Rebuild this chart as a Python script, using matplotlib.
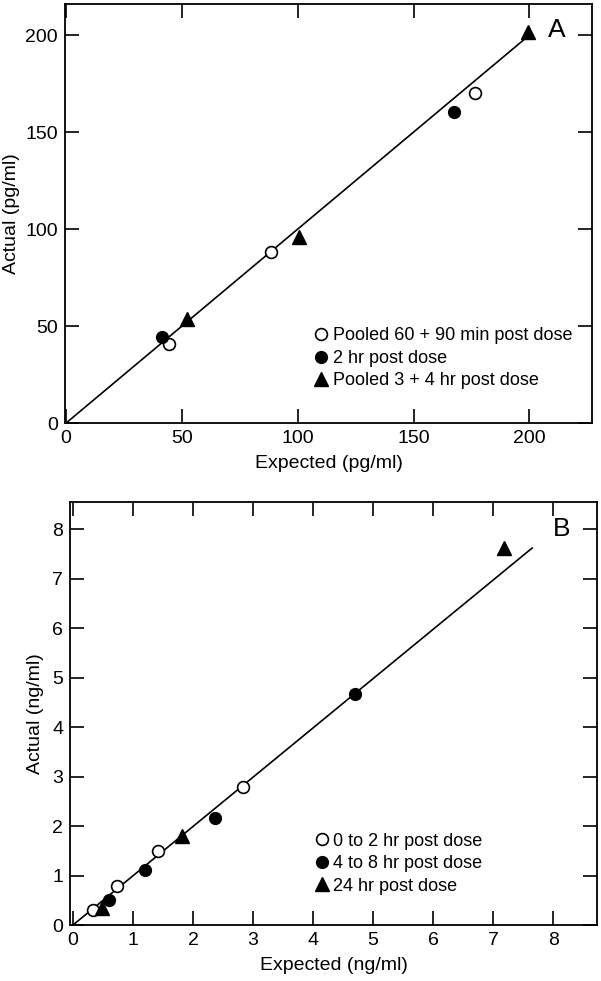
import matplotlib
matplotlib.use("Agg")
import matplotlib.pyplot as plt

plt.rcParams['font.family'] = ['Liberation Sans', 'DejaVu Sans']

# panel A (pg/ml)
a_open_x = [44.6, 88.3, 176.3]
a_open_y = [40.9, 87.9, 170.2]
a_fill_x = [41.4, 167.4]
a_fill_y = [44.4, 160.4]
a_tri_x = [52.2, 100.6, 199.2]
a_tri_y = [53.8, 96.0, 201.7]
a_line = [0, 199]
a_labels = ["Pooled 60 + 90 min post dose", "2 hr post dose", "Pooled 3 + 4 hr post dose"]

# panel B (ng/ml)
b_open_x = [0.34, 0.74, 1.42, 2.83]
b_open_y = [0.30, 0.78, 1.50, 2.79]
b_fill_x = [0.60, 1.20, 2.37, 4.70]
b_fill_y = [0.50, 1.12, 2.17, 4.66]
b_tri_x = [0.48, 1.82, 7.18]
b_tri_y = [0.34, 1.80, 7.62]
b_line_x = [0, 7.65]
b_line_y = [0, 7.62]
b_labels = ["0 to 2 hr post dose", "4 to 8 hr post dose", "24 hr post dose"]

fig = plt.figure(figsize=(6.01, 9.81), dpi=100)
axA = fig.add_axes([65/601, 1-423/981, 527/601, 419/981])
axB = fig.add_axes([70/601, 1-925/981, 527/601, 423/981])

tick_fs = 14
lab_fs = 14
leg_fs = 13
ms = 8.5


def style(ax):
    ax.tick_params(direction='in', length=10, width=1.2, top=True, right=True,
                   labelsize=tick_fs, pad=5)
    for s in ax.spines.values():
        s.set_linewidth(1.3)


def draw(ax, line_x, line_y, ox, oy, fx, fy, tx, ty, labels):
    ax.plot(line_x, line_y, color='black', lw=1.2, zorder=1)
    ax.plot(ox, oy, 'o', ms=ms, mfc='white', mec='black', mew=1.2, ls='none',
            label=labels[0], zorder=3)
    ax.plot(fx, fy, 'o', ms=ms, mfc='black', mec='black', ls='none',
            label=labels[1], zorder=3)
    ax.plot(tx, ty, '^', ms=ms + 1, mfc='black', mec='black', ls='none',
            label=labels[2], zorder=3)


draw(axA, a_line, a_line, a_open_x, a_open_y, a_fill_x, a_fill_y, a_tri_x, a_tri_y, a_labels)
axA.set_xlim(-0.5, 227)
axA.set_ylim(0, 216)
axA.set_xticks([0, 50, 100, 150, 200])
axA.set_yticks([0, 50, 100, 150, 200])
axA.set_xlabel("Expected (pg/ml)", fontsize=lab_fs, labelpad=6)
axA.set_ylabel("Actual (pg/ml)", fontsize=lab_fs, labelpad=4)
axA.text(0.934, 0.938, "A", transform=axA.transAxes, fontsize=19, ha='center', va='center')
axA.legend(loc='upper left', bbox_to_anchor=(0.476, 0.228), frameon=False, fontsize=leg_fs,
           handlelength=0.6, handletextpad=0.35, labelspacing=0.3, borderpad=0,
           borderaxespad=0)
style(axA)

draw(axB, b_line_x, b_line_y, b_open_x, b_open_y, b_fill_x, b_fill_y, b_tri_x, b_tri_y, b_labels)
axB.set_xlim(-0.05, 8.73)
axB.set_ylim(0, 8.55)
axB.set_xticks(range(0, 9))
axB.set_yticks(range(0, 9))
axB.set_xlabel("Expected (ng/ml)", fontsize=lab_fs, labelpad=6)
axB.set_ylabel("Actual (ng/ml)", fontsize=lab_fs, labelpad=6)
axB.text(0.933, 0.936, "B", transform=axB.transAxes, fontsize=19, ha='center', va='center')
axB.legend(loc='upper left', bbox_to_anchor=(0.467, 0.218), frameon=False, fontsize=leg_fs,
           handlelength=0.6, handletextpad=0.35, labelspacing=0.3, borderpad=0,
           borderaxespad=0)
style(axB)

fig.savefig("out.png", dpi=100)
